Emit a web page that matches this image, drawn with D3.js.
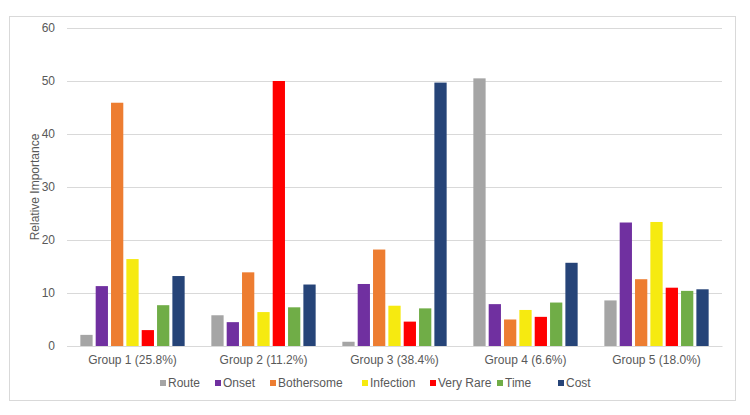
<!DOCTYPE html>
<html>
<head>
<meta charset="utf-8">
<script src="https://cdn.jsdelivr.net/npm/d3@7"></script>
<style>
  html, body { margin: 0; padding: 0; background: #fff; }
  svg text { font-family: "Liberation Sans", Arial, sans-serif; }
</style>
</head>
<body>
<svg id="chart" width="750" height="415"></svg>
<script>
// Groups along the x axis
const groups = ['Group 1 (25.8%)', 'Group 2 (11.2%)', 'Group 3 (38.4%)', 'Group 4 (6.6%)', 'Group 5 (18.0%)'];

// Attributes (series), one value per group
const attributes = ['Route', 'Onset', 'Bothersome', 'Infection', 'Very Rare', 'Time', 'Cost'];
const route      = [2.1, 5.8, 0.8, 50.5, 8.6];
const onset      = [11.3, 4.5, 11.7, 7.9, 23.3];
const bothersome = [45.9, 13.9, 18.2, 5.0, 12.6];
const infection  = [16.4, 6.4, 7.6, 6.8, 23.4];
const veryRare   = [3.0, 50.0, 4.6, 5.5, 11.0];
const time       = [7.7, 7.3, 7.1, 8.2, 10.4];
const cost       = [13.2, 11.6, 49.7, 15.7, 10.7];

const yTicks = [0, 10, 20, 30, 40, 50, 60];

const seriesValues = [route, onset, bothersome, infection, veryRare, time, cost];
const colors = ['#A5A5A5', '#7030A0', '#ED7D31', '#F6EA10', '#FF0000', '#70AD47', '#264478'];

const svg = d3.select('#chart');

// Outer chart border
svg.append('rect')
  .attr('x', 9.5).attr('y', 16.5)
  .attr('width', 726).attr('height', 384)
  .attr('fill', '#fff')
  .attr('stroke', '#D9D9D9');

const plot = { left: 67, right: 722, top: 28, bottom: 346 };

const x0 = d3.scaleBand()
  .domain(groups)
  .range([plot.left, plot.right])
  .padding(0);

const x1 = d3.scaleBand()
  .domain(attributes)
  .range([0, 104.3])
  .paddingInner(0.2)
  .paddingOuter(0);

const y = d3.scaleLinear()
  .domain([0, 60])
  .range([plot.bottom, plot.top]);

const color = d3.scaleOrdinal().domain(attributes).range(colors);

// Gridlines + y tick labels
const yAxis = d3.axisLeft(y)
  .tickValues(yTicks)
  .tickSize(-(plot.right - plot.left))
  .tickPadding(12);

const yg = svg.append('g')
  .attr('transform', `translate(${plot.left},0)`)
  .call(yAxis);
yg.select('.domain').remove();
yg.selectAll('.tick line').attr('stroke', '#D9D9D9');
yg.selectAll('.tick text')
  .attr('fill', '#595959')
  .style('font-size', '12px');

// Y axis title
svg.append('text')
  .attr('transform', `translate(39,${(plot.top + plot.bottom) / 2}) rotate(-90)`)
  .attr('text-anchor', 'middle')
  .attr('fill', '#595959')
  .style('font-size', '12px')
  .text('Relative Importance');

// Bars
const rows = groups.map((g, i) => ({
  group: g,
  values: attributes.map((a, j) => ({ key: a, value: seriesValues[j][i] }))
}));

const innerOffset = (x0.bandwidth() - 104.3) / 2;

svg.append('g')
  .selectAll('g')
  .data(rows)
  .join('g')
  .attr('transform', d => `translate(${x0(d.group) + innerOffset},0)`)
  .selectAll('rect')
  .data(d => d.values)
  .join('rect')
  .attr('x', d => x1(d.key))
  .attr('y', d => y(d.value))
  .attr('width', x1.bandwidth())
  .attr('height', d => y(0) - y(d.value))
  .attr('fill', d => color(d.key));

// X axis labels
const xAxis = d3.axisBottom(x0).tickSize(0).tickPadding(9);
const xg = svg.append('g')
  .attr('transform', `translate(0,${plot.bottom})`)
  .call(xAxis);
xg.select('.domain').attr('stroke', '#D9D9D9');
xg.selectAll('.tick text')
  .attr('fill', '#595959')
  .style('font-size', '12px');

// Legend
const legendX = [160, 215, 270, 362, 430, 497, 558];
const legend = svg.append('g')
  .selectAll('g')
  .data(attributes)
  .join('g')
  .attr('transform', (d, i) => `translate(${legendX[i]},383)`);

legend.append('rect')
  .attr('x', 0).attr('y', -3)
  .attr('width', 6).attr('height', 6)
  .attr('fill', d => color(d));

legend.append('text')
  .attr('x', 8)
  .attr('dy', '0.35em')
  .attr('fill', '#595959')
  .style('font-size', '12px')
  .text(d => d);
</script>
</body>
</html>
